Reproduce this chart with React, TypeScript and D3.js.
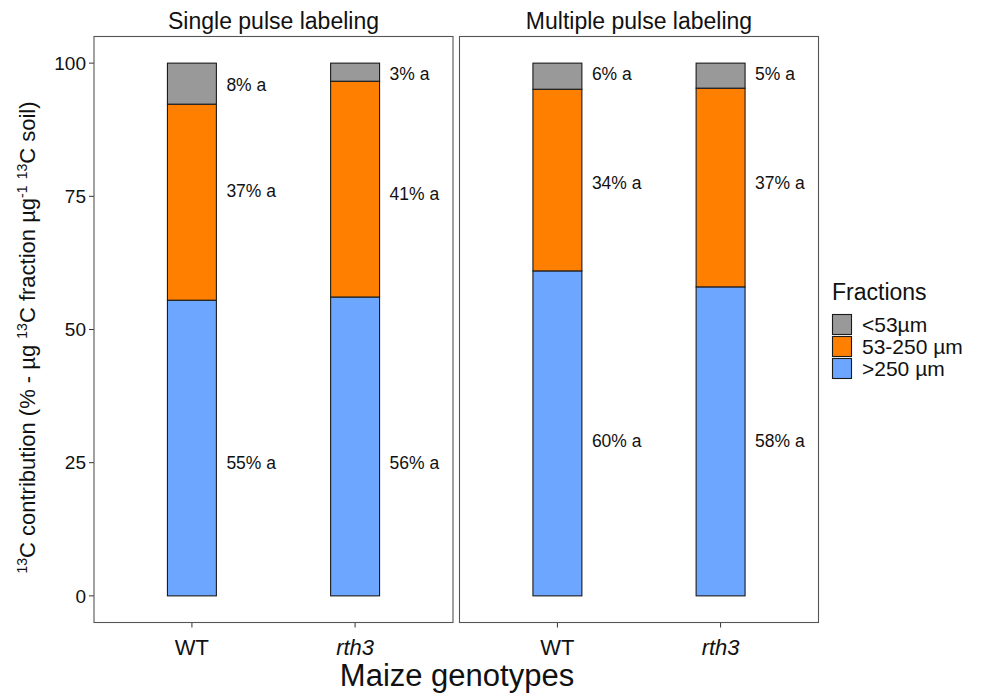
import * as d3 from "d3";

const panels = ["Single pulse labeling", "Multiple pulse labeling"];
const genotypes = ["WT", "rth3"];
const fractions = ["<53µm", "53-250 µm", ">250 µm"];
const fractionColors = ["#999999", "#FF8000", "#6CA6FF"];

// stacked from bottom: >250, 53-250, <53 (values per panel, per genotype)
const coarse = [[55.5, 56.1], [61.0, 58.0]];
const middle = [[36.8, 40.5], [34.1, 37.3]];
const fine = [[7.7, 3.4], [4.9, 4.7]];

// text labels and where they sit (y in data units)
const coarseLabels = [["55% a", "56% a"], ["60% a", "58% a"]];
const middleLabels = [["37% a", "41% a"], ["34% a", "37% a"]];
const fineLabels = [["8% a", "3% a"], ["6% a", "5% a"]];
const coarseLabelY = [[25, 25], [29, 29]];
const middleLabelY = [[76, 75.5], [77.5, 77.5]];
const fineLabelY = [[96, 98], [98, 98]];

const yTicks = [0, 25, 50, 75, 100];

const width = 988;
const height = 693;
const font = "Liberation Sans, Arial, sans-serif";
const panelLefts = [94, 459.5];
const panelWidth = 359;
const top = 36.5;
const bottom = 622.5;

export default function App() {
  const y = d3.scaleLinear([-5, 105], [bottom, top]);

  return (
    <svg
      width={width}
      height={height}
      style={{ position: "absolute", left: 0, top: 0, background: "#fff" }}
      fontFamily={font}
    >
      {/* y axis */}
      <g>
        {yTicks.map((t) => (
          <g key={t} transform={`translate(0,${y(t)})`}>
            <line x1={89} x2={94} stroke="#333" strokeWidth={1} />
            <text x={86} dy="0.35em" textAnchor="end" fontSize={19} fill="#111">
              {t}
            </text>
          </g>
        ))}
        <text
          transform={`translate(35,${(top + bottom) / 2 + 8}) rotate(-90)`}
          textAnchor="middle"
          fontSize={22}
          fill="#111"
        >
          <tspan fontSize={14} dy="-8">13</tspan>
          <tspan dy="8">C contribution (% - µg </tspan>
          <tspan fontSize={14} dy="-8">13</tspan>
          <tspan dy="8">C fraction µg</tspan>
          <tspan fontSize={14} dy="-8">-1</tspan>
          <tspan dy="8"> </tspan>
          <tspan fontSize={14} dy="-8">13</tspan>
          <tspan dy="8">C soil)</tspan>
        </text>
      </g>

      {panels.map((title, p) => {
        const x0 = panelLefts[p];
        const x = d3
          .scaleBand()
          .domain(genotypes)
          .range([x0, x0 + panelWidth])
          .paddingInner(0.7)
          .paddingOuter(0.45);
        const bw = x.bandwidth();
        return (
          <g key={title}>
            <text
              x={x0 + panelWidth / 2}
              y={29}
              textAnchor="middle"
              fontSize={23}
              fill="#111"
            >
              {title}
            </text>
            {genotypes.map((g, i) => {
              const segs = [
                { v0: 0, v1: coarse[p][i], c: fractionColors[2] },
                { v0: coarse[p][i], v1: coarse[p][i] + middle[p][i], c: fractionColors[1] },
                {
                  v0: coarse[p][i] + middle[p][i],
                  v1: coarse[p][i] + middle[p][i] + fine[p][i],
                  c: fractionColors[0],
                },
              ];
              const bx = x(g)!;
              const lx = bx + bw + 10;
              return (
                <g key={g}>
                  {segs.map((s, k) => (
                    <rect
                      key={k}
                      x={bx}
                      y={y(s.v1)}
                      width={bw}
                      height={y(s.v0) - y(s.v1)}
                      fill={s.c}
                      stroke="#1a1a1a"
                      strokeWidth={1.1}
                    />
                  ))}
                  <text x={lx} y={y(coarseLabelY[p][i])} dy="0.35em" fontSize={17.5} fill="#111">
                    {coarseLabels[p][i]}
                  </text>
                  <text x={lx} y={y(middleLabelY[p][i])} dy="0.35em" fontSize={17.5} fill="#111">
                    {middleLabels[p][i]}
                  </text>
                  <text x={lx} y={y(fineLabelY[p][i])} dy="0.35em" fontSize={17.5} fill="#111">
                    {fineLabels[p][i]}
                  </text>
                  <line
                    x1={bx + bw / 2}
                    x2={bx + bw / 2}
                    y1={bottom}
                    y2={bottom + 5}
                    stroke="#333"
                  />
                  <text
                    x={bx + bw / 2}
                    y={655}
                    textAnchor="middle"
                    fontSize={22}
                    fontStyle={g === "rth3" ? "italic" : "normal"}
                    fill="#111"
                  >
                    {g}
                  </text>
                </g>
              );
            })}
            <rect
              x={x0}
              y={top}
              width={panelWidth}
              height={bottom - top}
              fill="none"
              stroke="#555"
              strokeWidth={1.1}
            />
          </g>
        );
      })}

      <text x={457} y={686} textAnchor="middle" fontSize={31} fill="#111">
        Maize genotypes
      </text>

      {/* legend */}
      <g transform="translate(832,0)">
        <text x={0} y={300} fontSize={23} fill="#111">
          Fractions
        </text>
        {fractions.map((f, i) => (
          <g key={f} transform={`translate(0,${314 + i * 22})`}>
            <rect x={0.5} y={0.5} width={19} height={20} fill={fractionColors[i]} stroke="#1a1a1a" strokeWidth={1.1} />
            <text x={30} y={10.5} dy="0.35em" fontSize={21} fill="#111">
              {f}
            </text>
          </g>
        ))}
      </g>
    </svg>
  );
}
